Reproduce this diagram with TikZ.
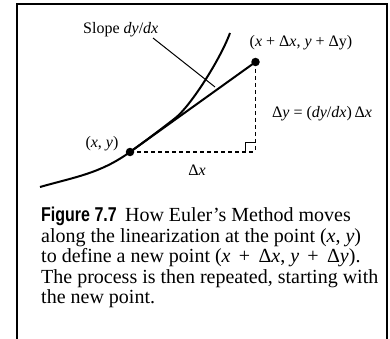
\documentclass[tikz,border=0pt]{standalone}
\usepackage{fontspec}
\setmainfont{Liberation Serif}
\newfontfamily\capsans[FakeStretch=0.8]{Liberation Sans}
\begin{document}
\begin{tikzpicture}[x=1pt,y=-1pt,
  lbl/.style={font=\fontsize{16}{18}\selectfont, inner sep=0pt},
  capline/.style={font=\fontsize{20}{21}\selectfont, inner sep=0pt, anchor=base west},
  dotst/.style={circle, fill=black, inner sep=0pt, minimum size=8.5pt},
  curvest/.style={line width=2pt},
  dashst/.style={line width=1.3pt, dash pattern=on 4pt off 3pt}]
\useasboundingbox (0,0) rectangle (390,339);
\draw[line width=2pt] (17,345) -- (17,4) -- (386.5,4) -- (386.5,345);
% points
\coordinate (P) at (130,152);
\coordinate (Q) at (255.5,62);
\coordinate (C) at (255.5,152);
\coordinate (S) at (40,187);
\coordinate (R) at (175,118.3);
\coordinate (T) at (230,33);
\draw[curvest] (S) .. controls (75,177) and (100,173.6) .. (P)
  .. controls (145,141.2) and (160,130) .. (R)
  .. controls (190,106.8) and (220,60) .. (T);
\draw[curvest] (P) -- (Q);
\draw[dashst] (P) -- (C);
\draw[dashst] (Q) -- (C);
\coordinate (M1) at (245.5,152);
\coordinate (M2) at (245.5,143);
\coordinate (M3) at (255.5,143);
\draw[line width=1pt] (M1) -- (M2) -- (M3);
\node[dotst] (dP) at (P) {};
\node[dotst] (dQ) at (Q) {};
% labels
\node[lbl, anchor=base west] (slope) at (83,34) {Slope \textit{dy}/\textit{dx}};
\coordinate (L1) at (153,38);
\coordinate (L2) at (215,87);
\draw[line width=1pt] (L1) -- (L2);
\node[lbl, anchor=base] (qlbl) at (301,47) {(\textit{x} + Δ\textit{x}, \textit{y} + Δy)};
\node[lbl, anchor=base] (dylbl) at (322,118) {Δ\textit{y} = (\textit{dy}/\textit{dx})\,Δ\textit{x}};
\node[lbl, anchor=base] (plbl) at (102,147) {(\textit{x}, \textit{y})};
\node[lbl, anchor=base] (dxlbl) at (197,175) {Δ\textit{x}};
% caption
\node[capline] (c1) at (41,221.7) {{\capsans\bfseries Figure 7.7}\, How Euler’s Method moves};
\node[capline] (c2) at (41,242.2) {along the linearization at the point (\textit{x}, \textit{y})};
\node[capline] (c3) at (41,262.7) {to define a new point (\textit{x} \,+\, Δ\textit{x}, \textit{y} \,+\, Δ\textit{y}).};
\node[capline] (c4) at (41,283.2) {The process is then repeated, starting with};
\node[capline] (c5) at (41,303.7) {the new point.};
\end{tikzpicture}
\end{document}
